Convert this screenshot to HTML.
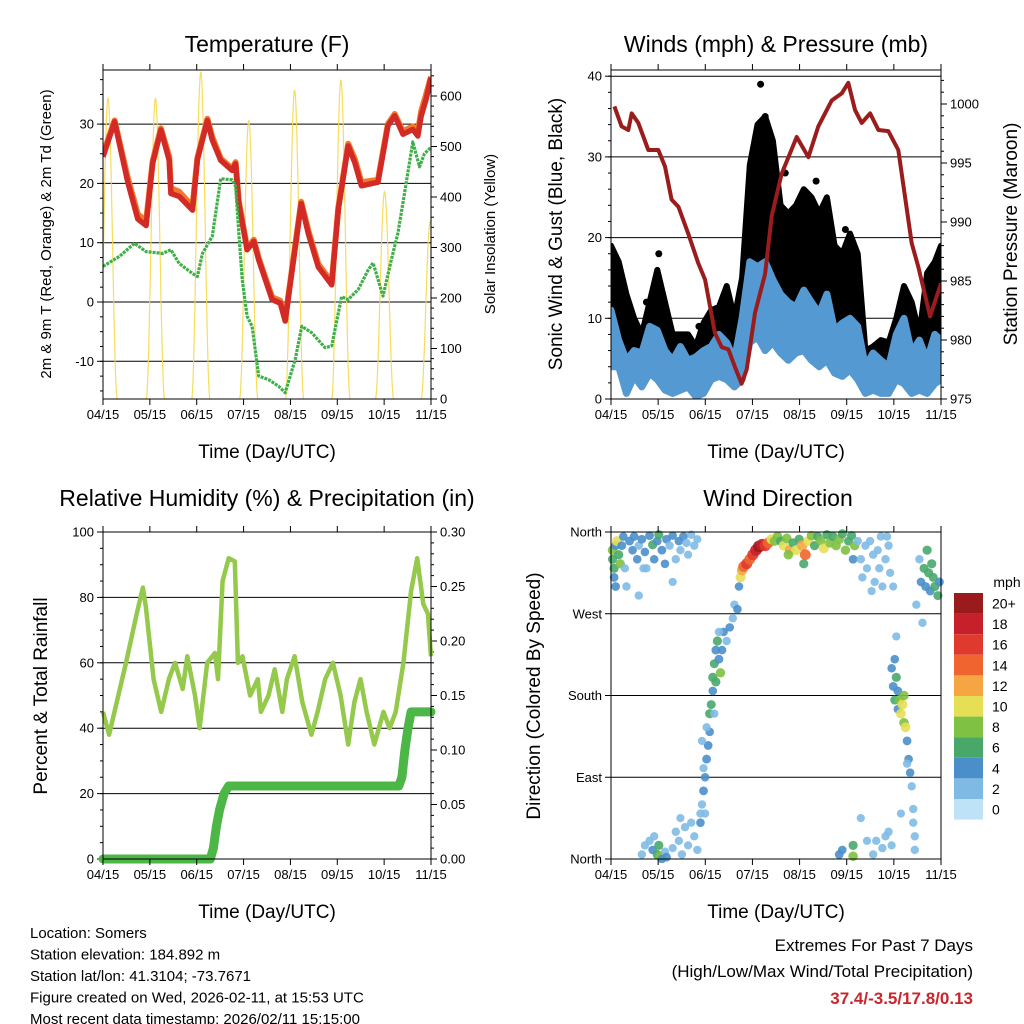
<!DOCTYPE html>
<html><head><meta charset="utf-8">
<style>
html,body{margin:0;padding:0;background:#fff;}
svg{display:block;font-family:"Liberation Sans",sans-serif;}
</style></head>
<body>
<svg id="chart" width="1024" height="1024" viewBox="0 0 1024 1024" xmlns="http://www.w3.org/2000/svg">
<defs>
<clipPath id="c1"><rect x="103" y="70" width="328" height="329"/></clipPath>
<clipPath id="c2"><rect x="611" y="70" width="330" height="329"/></clipPath>
<clipPath id="c4"><rect x="607" y="528" width="338" height="335"/></clipPath>
</defs>
<rect width="1024" height="1024" fill="#fff"/>
</svg>
<script>
// ---------- DATA ----------
const xTickLabels = ['04/15','05/15','06/15','07/15','08/15','09/15','10/15','11/15'];
const tempDays = [0,7.6,16.2,22.7,28.1,32.4,37.8,43.2,44.3,49.7,58.4,61.6,68.1,71.3,76.8,84.3,86.5,88.6,94,98.4,101.6,110.3,115.7,118.9,124.3,129.3,134,140.5,149.2,153.5,160,164.3,168.6,179.4,185.9,190.3,195.7,202.1,205.4,207.6,210.8,214];
const tempRed = [24.5,30.4,20.2,14.0,12.9,23.4,29.0,23.9,18.3,17.8,15.5,24.0,30.6,27.3,23.9,22.2,23.3,16.6,8.8,10.2,7.1,0.4,-0.2,-3.2,7.1,16.6,11.5,5.9,2.9,15.6,26.3,23.5,19.6,20.2,29.7,31.4,28.3,29.1,28.0,31.4,34.2,37.8];
const tempOrange = [24.9,30.6,20.9,14.8,13.6,23.8,29.3,24.5,19.2,18.6,16.1,24.3,30.9,27.8,24.2,22.5,23.6,17.0,9.1,10.5,7.4,0.8,0.2,-2.9,7.4,16.9,12.0,6.4,3.3,15.9,26.7,24.1,20.2,20.6,30.0,31.7,28.8,29.6,28.6,32.2,35.0,38.0];
const dewDays = [0,10.8,20.5,28.1,38.9,44.3,49.7,58.4,61.6,64.9,71.3,76.8,84.3,86.5,88.6,90.8,94,97.3,101.6,108.1,114.6,118.9,125.4,129.7,136.2,144.9,149.2,155.7,160,166.5,173,176.2,179.4,182.7,188.1,192.4,196.7,202.1,206.5,209.7,214];
const dewVals = [6.0,7.7,9.9,8.5,8.2,8.8,6.5,4.8,4.3,8.2,11.1,20.8,20.6,19.5,11.7,3.8,-2.4,-4.1,-12.5,-13.1,-14.2,-15.3,-9.7,-4.1,-5.2,-7.7,-7.4,0.9,0.4,2.1,5.4,6.6,3.8,1.0,7.1,11.6,18.3,27.0,22.8,25.0,26.1];
const solarPeakDays = [3.3,34.2,63.8,95.1,125,155.2,183.7,213.5];
const solarPeakVals = [596,596,648,552,612,632,410,351];

const pressDays = [2.2,6.9,11.2,13.4,17.7,24.2,30.7,35,39.3,43.7,50.1,56.6,61,67.4,71.8,76.1,80.4,84.7,88,93.4,99.9,104.2,110.7,120.4,128,134.4,143.1,149.6,153.9,158.2,162.6,168,173.4,179.8,186.3,195,199.3,206.9,214];
const pressVals = [999.8,998.1,997.8,999.2,998.4,996.1,996.1,994.7,991.9,991.3,989.0,986.5,985.1,980.6,979.4,979.2,977.7,976.3,977.5,982.3,985.6,990.5,994.1,997.2,995.5,998.1,1000.3,1000.9,1001.8,999.5,998.4,999.2,997.8,997.7,996.1,988.2,986.2,982.0,984.8];
const windDays = [0,5,10,15,20,25,30,35,40,45,50,55,60,65,70,75,80,85,90,95,100,105,110,115,120,125,130,135,140,145,150,155,160,165,170,175,180,185,190,195,200,205,210,214];
const sonicLow = [4,4,0.7,2.8,1.5,3.2,2.4,1.1,0.7,1.1,1.5,0.3,0.7,2.4,2.8,2.4,1.5,2.4,7,7.7,6,7,5.7,4.8,5.7,6,4.8,4,4.8,3.2,2.8,3.6,2.4,0.7,1.1,0.7,0.7,2.4,1.9,0.7,1.1,0.7,1.9,2.4];
const sonicHigh = [11,7.3,4.8,6,5.7,9,8.5,6,4.8,6.5,4.8,5.2,6,6.5,8,7,4.8,10,17,16.4,17,14.8,13,12,11.4,13.5,12,10.6,13,8.5,9.4,10,9,4,5.7,4.8,4,8,10,5.7,7.3,4.8,8,7.3];
const gustHigh = [19,17,13,10,8,12,16,12,8,8,8,6.5,9.4,11,11.4,14,10,15,29,34,35,32,24,23,24,26,25,23,25,19,18,20.5,18,6,6.5,7.3,7,10,14,12,8,15.6,17,19];
const gustOutDays = [97,100,99,96,31,23,57,142,152,125,128,113,133];
const gustOutVals = [39,35,34,33,18,12,9,22,21,24,23,28,27];

const rhDays = [0,4,15,22,26,28,33,38,43,47,52,55,60,63,68,73,75,78,82,86,88,91,96,101,103,108,112,117,120,125,130,136,140,145,150,155,160,164,168,172,177,183,187,191,196,201,205,209,212,214];
const rhVals = [45,38,60,75,83,77,55,45,55,60,52,62,50,40,60,63,55,85,92,91,60,62,50,55,45,50,58,45,55,62,48,38,45,55,60,50,35,48,55,45,35,45,40,45,60,82,92,78,75,62];
const precipDays = [0,70,72,74,76,79,82,193,195,197,199,201,214];
const precipVals = [0,0,0.01,0.03,0.045,0.06,0.067,0.067,0.075,0.10,0.12,0.135,0.135];

const dirPts = [[1,330,6],[1,340,8],[2,320,6],[3,345,4],[2,310,4],[4,350,10],[5,335,6],[6,325,7],[7,345,4],[8,355,3],[9,320,2],[3,300,4],
[12,350,4],[14,340,3],[15,355,4],[17,330,3],[18,345,2],[20,352,4],[22,338,3],[23,320,2],[25,356,4],[27,346,6],[28,330,3],[30,350,4],[31,357,6],[33,340,4],[35,325,3],[36,352,4],[38,345,2],[40,356,3],[42,330,2],[44,350,3],[45,340,2],[47,355,4],[49,348,2],[50,335,1],[52,357,2],[54,345,2],[56,352,1],[10,300,2],[18,290,2],[21,320,1],[40,305,1],
[25,20,2],[27,10,3],[30,5,6],[31,15,6],[32,3,7],[28,25,2],[35,8,2],[40,12,1],[42,30,2],[44,20,2],[46,5,2],[48,35,2],[50,15,1],[52,40,2],[54,25,2],[56,10,2],[45,45,1],[58,50,2],[20,5,2],[22,15,2],[33,0,3],[36,2,4],
[58,40,3],[59,60,2],[60,75,4],[61,90,3],[61,50,2],[62,110,4],[63,125,4],[64,140,3],[64,160,6],[65,170,5],[66,185,3],[66,200,6],[67,215,5],[68,195,6],[68,230,4],[69,240,6],[70,220,4],[71,205,7],[72,230,3],[73,250,3],[75,240,2],[77,255,3],[79,265,2],[80,280,2],[82,275,3],[83,300,3],
[84,310,10],[85,318,12],[86,322,14],[88,325,15],[90,330,14],[92,335,16],[94,340,18],[96,344,20],[98,346,18],[100,345,16],[102,348,14],[104,352,10],[106,350,8],[108,355,8],[110,350,6],[112,345,10],[114,353,8],[116,340,12],[118,348,6],[120,340,10],[122,352,6],[124,345,12],[126,335,14],[128,350,10],[130,356,8],[132,345,6],[134,355,6],[136,350,8],[138,342,10],[140,357,6],[142,348,8],[144,355,6],[146,345,7],[148,352,8],[150,358,6],[152,340,7],[154,350,5],[156,356,6],[157,330,4],[158,345,7],[125,325,6],[115,335,8],[60,100,1],[59,130,1],[62,145,2],[70,250,2],[67,160,2],
[160,350,2],[162,330,2],[163,310,2],[165,345,2],[166,320,1],[168,350,2],[170,335,2],[171,305,2],[173,340,1],[175,355,2],[176,300,1],[178,330,2],[180,345,2],[181,315,1],[183,300,1],[179,355,2],[174,320,2],[169,295,1],
[182,210,3],[183,190,4],[184,175,5],[184,220,3],[185,200,6],[186,185,4],[186,165,3],[187,175,8],[188,160,9],[189,170,10],[190,150,8],[190,180,7],[191,145,9],[192,130,4],[193,110,3],[194,95,3],[195,80,2],[196,55,2],[196,40,2],[197,25,2],[197,10,2],[185,245,1],[188,50,1],[192,105,2],
[200,330,2],[201,305,3],[203,320,5],[204,300,4],[205,340,6],[206,315,6],[207,295,4],[208,325,6],[209,310,5],[210,300,6],[212,290,5],[213,305,4],[198,280,2],[202,260,2],
[148,5,4],[157,3,8],[157,15,6],[150,10,3],[170,5,2],[172,20,2],[176,12,2],[180,30,2],[182,15,1],[178,25,2],[166,20,1],[162,45,1]];
const speedLabels = ['20+','18','16','14','12','10','8','6','4','2','0'];
const speedColors = ['#9b1a1c','#c6202a','#e03a2e','#f0652f','#f6a543','#e6df55','#7fc143','#48a86a','#4a8fca','#7fbae5','#bfe3f6'];

// ---------- HELPERS ----------
const svg = document.getElementById('chart');
const NS = 'http://www.w3.org/2000/svg';
function mk(tag, attrs, parent){
  const e = document.createElementNS(NS, tag);
  for (const k in attrs) e.setAttribute(k, attrs[k]);
  (parent||svg).appendChild(e);
  return e;
}
function txt(x,y,s,size,anchor,parent,extra){
  const t = mk('text',Object.assign({x:x,y:y,'font-size':size,'text-anchor':anchor||'middle',fill:'#000'},extra||{}),parent);
  t.textContent = s;
  return t;
}
function panel(x0,x1,y0,y1){
  return {x0,x1,y0,y1, x:t=>x0+(t/214)*(x1-x0)};
}
function linePath(xs,ys){ return xs.map((v,i)=>(i?'L':'M')+v.toFixed(1)+','+ys[i].toFixed(1)).join(''); }

function frameAndXAxis(p,name){
  const g = mk('g',{});
  
  
  for (let i=0;i<xTickLabels.length;i++){
    const x = p.x0 + i*(p.x1-p.x0)/7;
    mk('line',{x1:x,y1:p.y1,x2:x,y2:p.y1+6,stroke:'#000','stroke-width':1},g);
    mk('line',{x1:x,y1:p.y0,x2:x,y2:p.y0-6,stroke:'#000','stroke-width':1},g);
    const lab = txt(x,p.y1+20,xTickLabels[i],13,'middle',g);
    
    
  }
  const ttl = txt((p.x0+p.x1)/2,p.y1+59,'Time (Day/UTC)',19,'middle',g);
  
  
}
function frame(p,name){
  const r = mk('rect',{x:p.x0,y:p.y0,width:p.x1-p.x0,height:p.y1-p.y0,fill:'none',stroke:'#000','stroke-width':1});
  
  
}
function yAxis(p,ticks,labels,yf,side,minor,name,grid){
  const g = mk('g',{});
  
  
  const xe = side==='left'?p.x0:p.x1, d = side==='left'?-1:1;
  ticks.forEach((v,i)=>{
    const y=yf(v);
    if (grid) mk('line',{x1:p.x0,y1:y,x2:p.x1,y2:y,stroke:'#000','stroke-width':1},g);
    mk('line',{x1:xe,y1:y,x2:xe+d*6,y2:y,stroke:'#000','stroke-width':1},g);
    const l = txt(xe+d*9,y+4.5,labels[i],13,side==='left'?'end':'start',g);
    
    
  });
  (minor||[]).forEach(v=>{const y=yf(v); mk('line',{x1:xe,y1:y,x2:xe+d*3,y2:y,stroke:'#000','stroke-width':1},g);});
}
function rotTitle(x,y,s,size,name){
  const t = txt(x,y,s,size,'middle',svg,{transform:'rotate(-90 '+x+' '+y+')'});
  
  
}
function title(x,y,s,name){
  const t = txt(x,y,s,23,'middle');
  
  
}
function range(a,b,s){const r=[];for(let v=a;v<=b+1e-9;v+=s)r.push(+v.toFixed(4));return r;}

// ---------- PANEL 1: TEMPERATURE ----------
const p1 = panel(103,431,70,399);
const ty = v=>302 - v*5.93;
const sy = v=>399 - v*0.505;
title(267,52,'Temperature (F)','temperature-title');
yAxis(p1,[-10,0,10,20,30],['-10','0','10','20','30'],ty,'left',range(-15,37.5,2.5),'temperature-left-axis',true);
yAxis(p1,[0,100,200,300,400,500,600],['0','100','200','300','400','500','600'],sy,'right',range(0,640,20),'solar-right-axis',false);
{
  const g = mk('g',{'clip-path':'url(#c1)'});
  
  
  solarPeakDays.forEach((pd,i)=>{
    const xs=[],ys=[];
    for(let k=-20;k<=20;k++){const t=pd+k*0.3;const f=Math.cos(k/20*Math.PI/2);xs.push(p1.x(t));ys.push(sy(solarPeakVals[i]*f*f));}
    const pth = mk('path',{d:linePath(xs,ys),fill:'none',stroke:'#f7d84a','stroke-width':1.2,opacity:0.9},g);
    
    
  });
  const o = mk('path',{d:linePath(tempDays.map(p1.x),tempOrange.map(ty)),fill:'none',stroke:'#f07a2c','stroke-width':6,'stroke-linejoin':'round'},g);
  
  
  const r = mk('path',{d:linePath(tempDays.map(p1.x),tempRed.map(ty)),fill:'none',stroke:'#d42a26','stroke-width':5.5,'stroke-linejoin':'round'},g);
  
  
  const d = mk('path',{d:linePath(dewDays.map(p1.x),dewVals.map(ty)),fill:'none',stroke:'#3faf48','stroke-width':3.2,'stroke-dasharray':'3 1','stroke-linejoin':'round'},g);
  
  
}
frame(p1,'temperature');
frameAndXAxis(p1,'temperature');
rotTitle(51,234,'2m & 9m T (Red, Orange) & 2m Td (Green)',15,'temperature-y-axis-title');
rotTitle(495,234,'Solar Insolation (Yellow)',15,'solar-y-axis-title');

// ---------- PANEL 2: WINDS ----------
const p2 = panel(611,941,70,399);
const wy = v=>399 - v*8.07;
const py = v=>399 - (v-975)*11.8;
title(776,52,'Winds (mph) & Pressure (mb)','winds-title');
yAxis(p2,[0,10,20,30,40],['0','10','20','30','40'],wy,'left',range(0,40,2),'wind-left-axis',true);
yAxis(p2,[975,980,985,990,995,1000],['975','980','985','990','995','1000'],py,'right',range(975,1002,1),'pressure-right-axis',false);
{
  const g = mk('g',{'clip-path':'url(#c2)'});
  const xs = windDays.map(p2.x);
  const band=(lo,hi,col,nm,sw)=>{
    const d = linePath(xs,hi.map(wy))+linePath(xs.slice().reverse(),lo.slice().reverse().map(wy)).replace('M','L')+'Z';
    const e = mk('path',{d:d,fill:col,stroke:col,'stroke-width':sw,'stroke-linejoin':'round'},g);
    
    
  };
  band(sonicLow,gustHigh,'#000','gust-black-band',6);
  gustOutDays.forEach((dd,i)=>{
    const c = mk('circle',{cx:p2.x(dd),cy:wy(gustOutVals[i]),r:3.5,fill:'#000'},g);
    
    
  });
  band(sonicLow,sonicHigh,'#5599d2','sonic-wind-blue-band',7);
  const pr = mk('path',{d:linePath(pressDays.map(p2.x),pressVals.map(py)),fill:'none',stroke:'#9b1c1c','stroke-width':4,'stroke-linejoin':'round'},g);
  
  
}
frame(p2,'winds');
frameAndXAxis(p2,'winds');
rotTitle(562,234,'Sonic Wind & Gust (Blue, Black)',19,'wind-y-axis-title');
rotTitle(1017,234,'Station Pressure (Maroon)',19,'pressure-y-axis-title');

// ---------- PANEL 3: RH ----------
const p3 = panel(103,431,532,859);
const hy = v=>859 - v*3.27;
const ry = v=>859 - v*1090;
title(267,506,'Relative Humidity (%) & Precipitation (in)','humidity-title');
yAxis(p3,[0,20,40,60,80,100],['0','20','40','60','80','100'],hy,'left',range(0,100,5),'humidity-left-axis',true);
yAxis(p3,[0,0.05,0.10,0.15,0.20,0.25,0.30],['0.00','0.05','0.10','0.15','0.20','0.25','0.30'],ry,'right',range(0,0.3,0.01),'precip-right-axis',false);
{
  const rh = mk('path',{d:linePath(rhDays.map(p3.x),rhVals.map(hy)),fill:'none',stroke:'#94c94b','stroke-width':4.5,'stroke-linejoin':'round'});
  
  
  const pc = mk('path',{d:linePath(precipDays.map(p3.x),precipVals.map(ry)),fill:'none',stroke:'#4cb646','stroke-width':9,'stroke-linejoin':'round','stroke-linecap':'round'});
  
  
}
frame(p3,'humidity');
frameAndXAxis(p3,'humidity');
rotTitle(47,696,'Percent & Total Rainfall',19,'humidity-y-axis-title');

// ---------- PANEL 4: WIND DIRECTION ----------
const p4 = panel(611,941,532,859);
const dy = v=>859 - v*(327/360);
title(778,506,'Wind Direction','direction-title');
yAxis(p4,[0,90,180,270,360],['North','East','South','West','North'],dy,'left',[],'direction-left-axis',true);
{
  const g = mk('g',{'clip-path':'url(#c4)'});
  
  
  dirPts.forEach(pt=>{
    const s = pt[2];
    const idx = Math.max(0, 10 - Math.min(10, Math.round(s/2)));
    const c = mk('circle',{cx:p4.x(pt[0]),cy:dy(pt[1]),r:4+Math.min(s,20)*0.1,fill:speedColors[idx],opacity:0.9},g);
    
    
  });
}
frame(p4,'direction');
frameAndXAxis(p4,'direction');
rotTitle(540,696,'Direction (Colored By Speed)',19,'direction-y-axis-title');
{
  const g = mk('g',{});
  
  
  const u = txt(1007,587,'mph',14,'middle',g);
  
  
  speedLabels.forEach((l,i)=>{
    const y = 593 + i*20.6;
    const b = mk('rect',{x:954,y:y,width:29,height:20.6,fill:speedColors[i]},g);
    
    
    const t = txt(992,y+15.5,l,14,'start',g);
    
    
  });
}

// ---------- FOOTER ----------
const info = ['Location: Somers','Station elevation: 184.892 m','Station lat/lon: 41.3104; -73.7671','Figure created on Wed, 2026-02-11, at 15:53 UTC','Most recent data timestamp: 2026/02/11 15:15:00'];
info.forEach((s,i)=>{
  const t = txt(30,938+i*21.5,s,15,'start');
  
  
});
{
  const a = txt(973,951,'Extremes For Past 7 Days',17,'end');
  
  
  const b = txt(973,977,'(High/Low/Max Wind/Total Precipitation)',17,'end');
  
  
  const c = txt(973,1004,'37.4/-3.5/17.8/0.13',17,'end',svg,{fill:'#c9252c','font-weight':'bold'});
  
  
}
</script>
</body></html>
